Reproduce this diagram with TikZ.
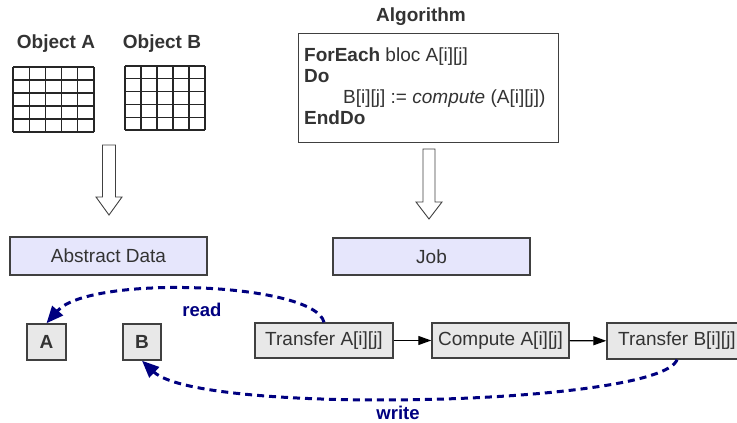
\documentclass[tikz,border=0pt]{standalone}
\usepackage{fontspec}
\setmainfont{Liberation Sans}
\usetikzlibrary{arrows.meta}

\definecolor{txt}{HTML}{333333}
\definecolor{edge}{HTML}{404040}
\definecolor{boxgray}{RGB}{232,232,232}
\definecolor{lavender}{RGB}{230,230,252}
\definecolor{navyline}{RGB}{0,0,128}

\begin{document}
\begin{tikzpicture}[x=1pt,y=-1pt,
  every node/.style={text=txt, font=\fontsize{19}{21}\selectfont, inner sep=0pt},
  graybox/.style={draw=edge, line width=1.4pt, fill=boxgray},
  lavbox/.style={draw=edge, line width=1.4pt, fill=lavender},
  title/.style={font=\fontsize{19}{21}\selectfont\bfseries},
  flow/.style={line width=1.1pt, -{Triangle[length=13pt,width=9pt]}},
  transfer/.style={navyline, line width=3pt, dash pattern=on 7pt off 5pt,
    -{Triangle[length=17pt,width=14pt]}},
  tlabel/.style={text=navyline, font=\fontsize{18.5}{21}\selectfont\bfseries},
  hollow/.style={draw=edge, line width=0.9pt, fill=white, line join=miter},
  gridline/.style={line width=1.3pt, draw=black!85}
]
\useasboundingbox (0,0) rectangle (737,423);
\clip (0,0) rectangle (737,423);

% data objects and their grids
\node[title] (objA) at (56,44) {Object A};
\node[title] (objB) at (162,44) {Object B};
\foreach \i in {0,...,5} {
  \draw[gridline] (13+\i*16.2,67) -- (13+\i*16.2,132);
  \draw[gridline] (13,67+\i*13) -- (94,67+\i*13);
  \draw[gridline] (125+\i*16,66) -- (125+\i*16,130);
  \draw[gridline] (125,66+\i*12.8) -- (205,66+\i*12.8);
}

% algorithm
\node[title] (algtitle) at (421,17) {Algorithm};
\node[draw=edge, line width=1.4pt, fill=white, minimum width=260pt,
  minimum height=109pt, anchor=north west] (algbox) at (298,33) {};
\node[anchor=base west] (l1) at (304,61) {\textbf{ForEach} bloc A[i][j]};
\node[anchor=base west] (l2) at (304,82) {\textbf{Do}};
\node[anchor=base west] (l3) at (343,103) {B[i][j] := \textit{compute} (A[i][j])};
\node[anchor=base west] (l4) at (304,124) {\textbf{EndDo}};

% hollow block arrows
\draw[hollow] (102.5,145) -- (115.5,145) -- (115.5,197) -- (122,197) -- (109,215)
  -- (96,197) -- (102.5,197) -- cycle;
\draw[hollow] (423,149) -- (435,149) -- (435,202) -- (442,202) -- (429,219)
  -- (416,202) -- (423,202) -- cycle;

% abstract layer
\node[lavbox, minimum width=197pt, minimum height=38pt] (ad) at (108.5,256) {Abstract Data};
\node[lavbox, minimum width=197pt, minimum height=37pt] (job) at (431.5,256.5) {Job};

% data blocks and job steps
\node[graybox, minimum width=39pt, minimum height=36pt, font=\fontsize{19}{21}\selectfont\bfseries] (A) at (46.5,342) {A};
\node[graybox, minimum width=38pt, minimum height=36pt, font=\fontsize{19}{21}\selectfont\bfseries] (B) at (142,342) {B};
\node[graybox, minimum width=138pt, minimum height=35pt] (ta) at (324,340.5) {Transfer A[i][j]};
\node[graybox, minimum width=137pt, minimum height=35pt] (ca) at (500.5,340.5) {Compute A[i][j]};
\node[graybox, minimum width=140pt, minimum height=36pt] (tb) at (677,341) {Transfer B[i][j]};

\draw[flow] (ta) -- (ca);
\draw[flow] (ca) -- (tb);

% transfers between data and job
\draw[transfer] (ta.north) .. controls +(-9,-40) and +(43,-49) .. (A.north);
\draw[transfer] (tb.south) .. controls +(-17,46) and +(58,55) .. (B.south);
\node[tlabel] (read) at (202,310) {read};
\node[tlabel] (write) at (398,413) {write};
\end{tikzpicture}
\end{document}
